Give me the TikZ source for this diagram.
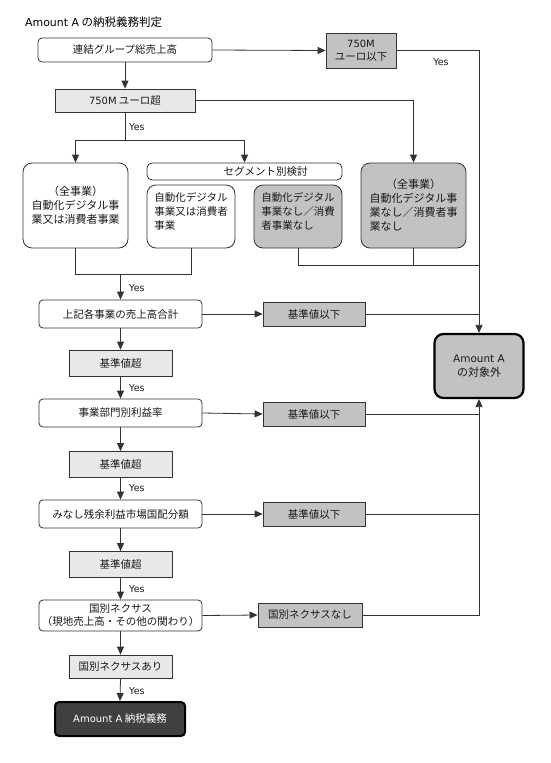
\documentclass[tikz,border=0pt]{standalone}
\usepackage{fontspec}
\setmainfont{Noto Sans CJK JP}
\newfontfamily\lat{DejaVu Sans}[Scale=0.95]
\usetikzlibrary{arrows.meta}
\begin{document}
\begin{tikzpicture}[x=1pt,y=-1pt,
  base/.style={draw=black!80, line width=0.8pt, text=black!90, font=\fontsize{10.5}{14}\selectfont, inner sep=0pt, align=center},
  rbox/.style={base, rounded corners=4pt, fill=white},
  bigbox/.style={base, rounded corners=9pt, font=\fontsize{11}{14}\selectfont},
  lbox/.style={base, fill=black!9},
  gbox/.style={base, fill=black!24},
  con/.style={draw=black!80, line width=0.8pt},
  arr/.style={con, -{Triangle[length=8pt,width=7pt]}},
  yes/.style={font=\lat\fontsize{10}{12}\selectfont, text=black!90, anchor=west, inner sep=0pt}]
\useasboundingbox (0,0) rectangle (550,763);

\node[anchor=west, font=\fontsize{11.5}{13}\selectfont, inner sep=0pt] (title) at (25,22) {{\lat Amount A} の納税義務判定};

\node[rbox, minimum width=174pt, minimum height=24pt] (top) at (125,50) {連結グループ総売上高};
\node[gbox, minimum width=70pt, minimum height=35pt, font=\fontsize{10.5}{13}\selectfont] (le750) at (361,50.5) {{\lat 750M}\\ユーロ以下};
\node[lbox, minimum width=140pt, minimum height=23pt] (gt750) at (125,100.5) {{\lat 750M} ユーロ超};

\node[bigbox, fill=white, minimum width=105pt, minimum height=85pt] (L) at (75.5,205.5) {（全事業）\\自動化デジタル事\\業又は消費者事業};
\node[rbox, minimum width=195pt, minimum height=17pt, rounded corners=5pt] (seg) at (244.5,171.5) {\hspace*{4em}セグメント別検討};
\node[bigbox, fill=white, minimum width=88pt, minimum height=63pt, align=left, font=\fontsize{10.5}{14}\selectfont] (S1) at (191,216.5) {自動化デジタル\\事業又は消費者\\事業\\[-4pt]};
\node[bigbox, fill=black!24, minimum width=88pt, minimum height=63pt, align=left, font=\fontsize{10.5}{14}\selectfont] (S2) at (298,216.5) {自動化デジタル\\事業なし／消費\\者事業なし\\[-4pt]};
\node[bigbox, fill=black!24, minimum width=105pt, minimum height=85pt, align=left] (R) at (413.5,205.5) {\hspace*{1.5em}（全事業）\\自動化デジタル事\\業なし／消費者事\\業なし};

\node[rbox, minimum width=163pt, minimum height=28pt] (sum) at (120.5,314) {上記各事業の売上高合計};
\node[gbox, minimum width=102pt, minimum height=24pt] (le1) at (314,314) {基準値以下};
\node[lbox, minimum width=103pt, minimum height=26pt] (gt1) at (120.5,363) {基準値超};

\node[rbox, minimum width=163pt, minimum height=28pt] (rate) at (120.5,413) {事業部門別利益率};
\node[gbox, minimum width=102pt, minimum height=24pt] (le2) at (314,414) {基準値以下};
\node[lbox, minimum width=103pt, minimum height=26pt] (gt2) at (120.5,464.5) {基準値超};

\node[rbox, minimum width=163pt, minimum height=28pt] (res) at (120.5,514) {みなし残余利益市場国配分額};
\node[gbox, minimum width=102pt, minimum height=24pt] (le3) at (314,514) {基準値以下};
\node[lbox, minimum width=103pt, minimum height=26pt] (gt3) at (120.5,564.5) {基準値超};

\node[rbox, minimum width=163pt, minimum height=31pt, font=\fontsize{10.5}{13}\selectfont] (nex) at (120.5,615.5) {国別ネクサス\\（現地売上高・その他の関わり）};
\node[gbox, minimum width=104pt, minimum height=24pt] (nonex) at (310,615) {国別ネクサスなし};
\node[lbox, minimum width=103pt, minimum height=23pt] (yesnex) at (120.5,666.5) {国別ネクサスあり};

\node[base, rounded corners=4pt, fill=black!75, text=white, draw=black, line width=2pt, minimum width=130pt, minimum height=34pt] (final) at (120,719) {{\lat Amount A} 納税義務};

\node[base, rounded corners=9pt, fill=black!24, draw=black, line width=2.2pt, minimum width=89pt, minimum height=64pt, font=\fontsize{11}{14}\selectfont] (out) at (479,366) {{\lat Amount A}\\の対象外};

% connectors
\draw[arr] (top.east) -- (le750.west);
\draw[arr] (le750.east) -| (out.north);
\node[yes, anchor=center] at (441,62) {Yes};
\draw[arr] (top.south) -- (gt750.north);
\draw[arr] (gt750.east) -| (R.north);

\coordinate (br) at (125,140);
\draw[con] (gt750.south) -- (br);
\node[yes] at (129,127) {Yes};
\draw[con] (L.north |- br) -- (seg.north |- br);
\draw[arr] (L.north |- br) -- (L.north);
\draw[arr] (seg.north |- br) -- (seg.north);

\coordinate (jl) at (0,274);
\draw[con] (L.south) -- (L.south |- jl) -- (S1.south |- jl) -- (S1.south);
\draw[arr] (sum.north |- jl) -- (sum.north);
\node[yes] at (129,288) {Yes};

\coordinate (jr) at (0,265);
\draw[con] (S2.south) -- (S2.south |- jr) -- (out.north |- jr);
\draw[con] (R.south) -- (R.south |- jr);

\draw[arr] (sum.east) -- (le1.west);
\draw[con] (le1.east) -- (le1.east -| out.north);
\draw[arr] (sum.south) -- (gt1.north);
\draw[arr] (gt1.south) -- (rate.north);
\node[yes] at (129,388) {Yes};

\draw[arr] (rate.east) -- (le2.west);
\draw[con] (le2.east) -- (le2.east -| out.south);
\draw[arr] (rate.south) -- (gt2.north);
\draw[arr] (gt2.south) -- (res.north);
\node[yes] at (129,488) {Yes};

\draw[arr] (res.east) -- (le3.west);
\draw[con] (le3.east) -- (le3.east -| out.south);
\draw[arr] (res.south) -- (gt3.north);
\draw[arr] (gt3.south) -- (nex.north);
\node[yes] at (129,589) {Yes};

\draw[arr] (nex.east) -- (nonex.west);
\draw[arr] (nonex.east) -| (out.south);
\draw[arr] (nex.south) -- (yesnex.north);
\draw[arr] (yesnex.south) -- (final.north);
\node[yes] at (129,691) {Yes};
\end{tikzpicture}
\end{document}
